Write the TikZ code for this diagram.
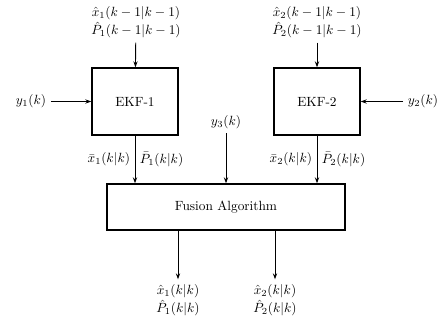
\documentclass[tikz,border=0pt]{standalone}
\usepackage{amsmath}
\usepackage{tikz}
\usetikzlibrary{arrows.meta, positioning}

\begin{document}
\begin{tikzpicture}[x=0.75pt, y=0.75pt,
    every node/.style={font=\fontsize{10}{14}\selectfont},
    block/.style={draw, line width=1pt, inner sep=0pt},
    sig/.style={-{Stealth[length=4.5pt, width=3.2pt]}, line width=0.7pt}]
  \useasboundingbox (0,0) rectangle (442,330);
  % --- filter blocks -----------------------------------------------
  \node[block, minimum width=64.5pt, minimum height=50.25pt] (ekf1) at (135, 228.5) {EKF-1};
  \node[block, minimum width=64.5pt, minimum height=50.25pt] (ekf2) at (317, 228.5) {EKF-2};
  % --- fusion block ------------------------------------------------
  \node[block, minimum width=178.5pt, minimum height=34.5pt] (fusion) at (226, 123) {Fusion Algorithm};
  % --- previous estimates (top) ------------------------------------
  \node[align=center] (prev1) at (136, 308) {$\hat{x}_1(k-1|k-1)$\\ $\hat{P}_1(k-1|k-1)$};
  \node[align=center] (prev2) at (317, 308) {$\hat{x}_2(k-1|k-1)$\\ $\hat{P}_2(k-1|k-1)$};
  \draw[sig] (prev1) -- (ekf1);
  \draw[sig] (prev2) -- (ekf2);
  % --- measurements ------------------------------------------------
  \node (meas1) at (31, 228.5) {$y_1(k)$};
  \node (meas2) at (423, 228.5) {$y_2(k)$};
  \node (meas3) at (226, 208) {$y_3(k)$};
  \draw[sig] (meas1) -- (ekf1);
  \draw[sig] (meas2) -- (ekf2);
  \draw[sig] (meas3) -- (fusion);
  % --- local estimates into fusion ---------------------------------
  \draw[sig] (ekf1) -- (ekf1 |- fusion.north)
    node[midway, left] (loc1x) {$\bar{x}_1(k|k)$}
    node[midway, right] (loc1p) {$\bar{P}_1(k|k)$};
  \draw[sig] (ekf2) -- (ekf2 |- fusion.north)
    node[midway, left] (loc2x) {$\bar{x}_2(k|k)$}
    node[midway, right] (loc2p) {$\bar{P}_2(k|k)$};
  % --- fused estimates (bottom) ------------------------------------
  \node[align=center] (out1) at (178, 30) {$\hat{x}_1(k|k)$\\ $\hat{P}_1(k|k)$};
  \node[align=center] (out2) at (275, 30) {$\hat{x}_2(k|k)$\\ $\hat{P}_2(k|k)$};
  \draw[sig] (out1 |- fusion.south) -- (out1);
  \draw[sig] (out2 |- fusion.south) -- (out2);
\end{tikzpicture}
\end{document}
